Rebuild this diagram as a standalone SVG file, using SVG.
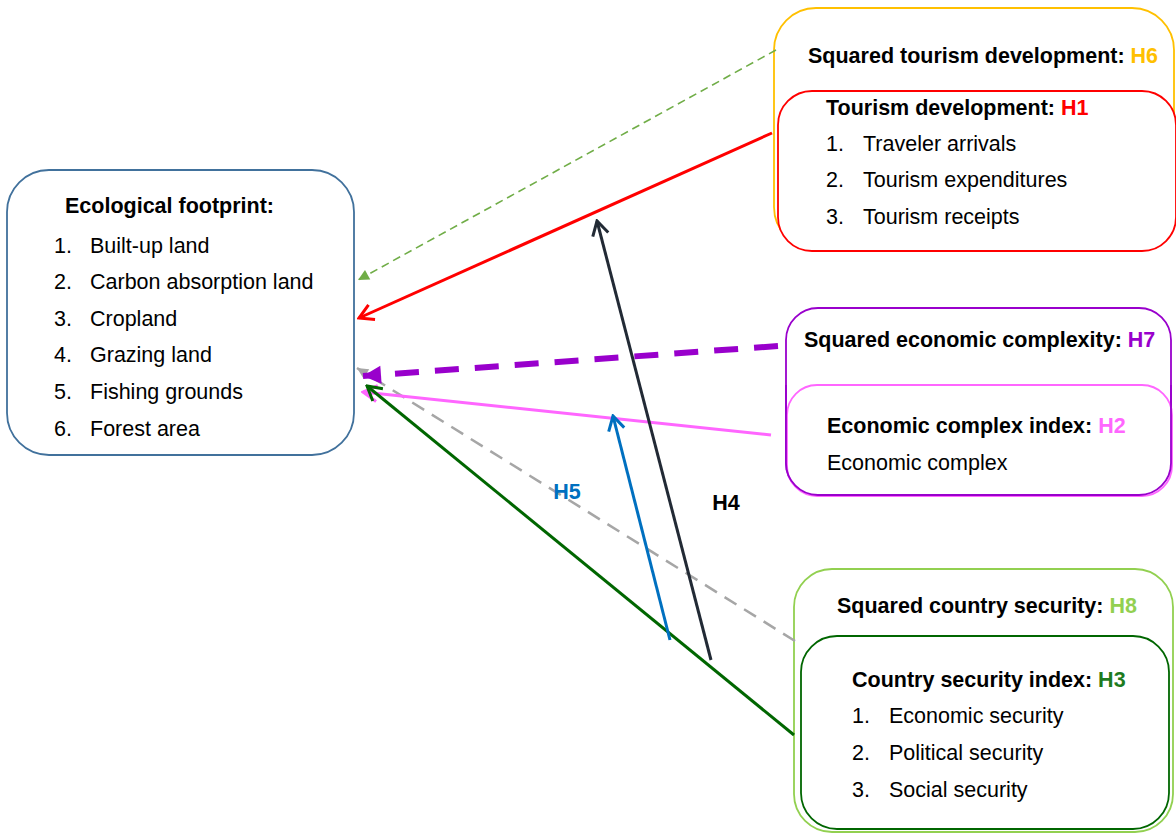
<svg xmlns="http://www.w3.org/2000/svg" width="1176" height="834" viewBox="0 0 1176 834">
<style>
text{font-family:"Liberation Sans",Arial,sans-serif;font-size:21.5px;fill:#000}
.b{font-weight:bold}
.box{fill:#fff;stroke-width:1.8}
.c{fill:none}
</style>
<defs>
<marker id="aGreenD" markerUnits="userSpaceOnUse" viewBox="-12 -7 14 14" markerWidth="14" markerHeight="14" refX="0" refY="0" orient="auto"><path d="M-11,-5.5 L0,0 L-11,5.5 Z" fill="#70AD47"/></marker>
<marker id="aGray" markerUnits="userSpaceOnUse" viewBox="-12 -7 14 14" markerWidth="14" markerHeight="14" refX="0" refY="0" orient="auto"><path d="M-11,-5.5 L0,0 L-11,5.5 Z" fill="#A6A6A6"/></marker>
<marker id="aPurple" markerUnits="userSpaceOnUse" viewBox="-20 -11 22 22" markerWidth="22" markerHeight="22" refX="0" refY="0" orient="auto"><path d="M-18,-9 L0,0 L-18,9 Z" fill="#9900CC"/></marker>
<marker id="aRed" markerUnits="userSpaceOnUse" viewBox="-16 -10 18 20" markerWidth="18" markerHeight="20" refX="0" refY="0" orient="auto"><path d="M-14,-8 L0,0 L-14,8" fill="none" stroke="#FF0000" stroke-width="3"/></marker>
<marker id="aNavy" markerUnits="userSpaceOnUse" viewBox="-16 -10 18 20" markerWidth="18" markerHeight="20" refX="0" refY="0" orient="auto"><path d="M-14,-8 L0,0 L-14,8" fill="none" stroke="#222A35" stroke-width="3"/></marker>
<marker id="aPink" markerUnits="userSpaceOnUse" viewBox="-16 -10 18 20" markerWidth="18" markerHeight="20" refX="0" refY="0" orient="auto"><path d="M-14,-8 L0,0 L-14,8" fill="none" stroke="#FF66FF" stroke-width="3"/></marker>
<marker id="aDGreen" markerUnits="userSpaceOnUse" viewBox="-16 -10 18 20" markerWidth="18" markerHeight="20" refX="0" refY="0" orient="auto"><path d="M-14,-8 L0,0 L-14,8" fill="none" stroke="#006600" stroke-width="3"/></marker>
<marker id="aBlue" markerUnits="userSpaceOnUse" viewBox="-16 -10 18 20" markerWidth="18" markerHeight="20" refX="0" refY="0" orient="auto"><path d="M-14,-8 L0,0 L-14,8" fill="none" stroke="#0070C0" stroke-width="3"/></marker>
</defs>

<g id="ecological-footprint">
<rect class="box" x="7" y="170" width="347" height="285" rx="42" stroke="#41719C"/>
<text class="b" x="65" y="213">Ecological footprint:</text>
<text x="54" y="253">1.</text><text x="90" y="253">Built-up land</text>
<text x="54" y="289">2.</text><text x="90" y="289">Carbon absorption land</text>
<text x="54" y="326">3.</text><text x="90" y="326">Cropland</text>
<text x="54" y="362">4.</text><text x="90" y="362">Grazing land</text>
<text x="54" y="399">5.</text><text x="90" y="399">Fishing grounds</text>
<text x="54" y="436">6.</text><text x="90" y="436">Forest area</text>
</g>

<g id="squared-tourism">
<rect class="box" x="774" y="8" width="400" height="241" rx="42" stroke="#FFC000"/>
<text class="b" x="808" y="63">Squared tourism development: <tspan fill="#FFC000">H6</tspan></text>
</g>
<g id="tourism-development">
<rect class="box" x="778" y="91" width="398" height="160" rx="34" stroke="#FF0000"/>
<text class="b" x="826" y="115">Tourism development: <tspan fill="#FF0000">H1</tspan></text>
<text x="826" y="151">1.</text><text x="863" y="151">Traveler arrivals</text>
<text x="826" y="187">2.</text><text x="863" y="187">Tourism expenditures</text>
<text x="826" y="224">3.</text><text x="863" y="224">Tourism receipts</text>
</g>

<g id="squared-economic">
<rect class="box" x="786" y="308" width="385" height="187" rx="32" stroke="#9900CC"/>
<text class="b" x="804" y="347">Squared economic complexity: <tspan fill="#9900CC">H7</tspan></text>
</g>
<g id="economic-complex">
<rect class="box" x="787" y="385" width="385" height="111" rx="30" stroke="#FF66FF"/>
<path d="M786,385 L786,463 A32,32 0 0 0 818,495 L1139,495 A32,32 0 0 0 1171,463 L1171,385" fill="none" stroke="#9900CC" stroke-width="1.8"/>
<text class="b" x="827" y="433">Economic complex index: <tspan fill="#FF66FF">H2</tspan></text>
<text x="827" y="470">Economic complex</text>
</g>

<g id="squared-security">
<rect class="box" x="794" y="569" width="379" height="263" rx="38" stroke="#92D050"/>
<text class="b" x="837" y="613">Squared country security: <tspan fill="#92D050">H8</tspan></text>
</g>
<g id="country-security">
<rect class="box" x="801" y="636" width="368" height="193" rx="36" stroke="#006600"/>
<text class="b" x="852" y="687">Country security index: <tspan fill="#1E7B1E">H3</tspan></text>
<text x="852" y="723">1.</text><text x="889" y="723">Economic security</text>
<text x="852" y="760">2.</text><text x="889" y="760">Political security</text>
<text x="852" y="797">3.</text><text x="889" y="797">Social security</text>
</g>

<g id="connectors">
<line class="c" x1="776" y1="50" x2="358" y2="280" stroke="#70AD47" stroke-width="1.6" stroke-dasharray="8 5" marker-end="url(#aGreenD)"/>
<line class="c" x1="772" y1="133" x2="359" y2="318" stroke="#FF0000" stroke-width="3" marker-end="url(#aRed)"/>
<line class="c" x1="795" y1="641" x2="357" y2="368" stroke="#A6A6A6" stroke-width="2.5" stroke-dasharray="14 9" marker-end="url(#aGray)"/>
<line class="c" x1="778" y1="346" x2="363" y2="376" stroke="#9900CC" stroke-width="6" stroke-dasharray="24 16" marker-end="url(#aPurple)"/>
<line class="c" x1="771" y1="435" x2="363" y2="392" stroke="#FF66FF" stroke-width="3" marker-end="url(#aPink)"/>
<line class="c" x1="794" y1="735" x2="367" y2="386" stroke="#006600" stroke-width="3" marker-end="url(#aDGreen)"/>
<line class="c" x1="711" y1="660" x2="597" y2="221" stroke="#222A35" stroke-width="3" marker-end="url(#aNavy)"/>
<line class="c" x1="670" y1="640" x2="613" y2="416" stroke="#0070C0" stroke-width="3" marker-end="url(#aBlue)"/>
<text class="b" x="567" y="499" text-anchor="middle" style="fill:#0070C0">H5</text>
<text class="b" x="726" y="510" text-anchor="middle">H4</text>
</g>
</svg>
